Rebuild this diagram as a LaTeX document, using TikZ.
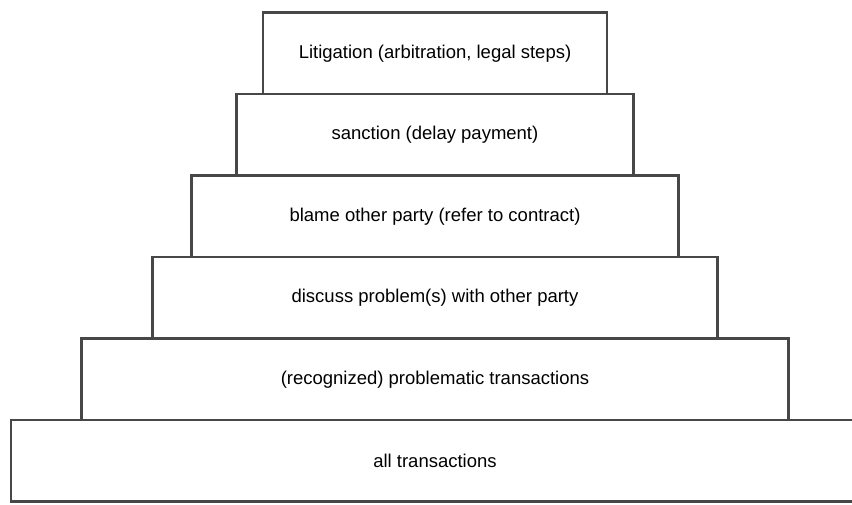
\documentclass[tikz,border=0pt]{standalone}
\usepackage{fontspec}
\setmainfont{Liberation Sans}
\usetikzlibrary{positioning}

\begin{document}
\begin{tikzpicture}[
        x=1pt, y=1pt,
        escalon/.style={draw=black!72, line width=2.2pt, fill=white, outer sep=0pt,
            minimum height=81.5pt, inner sep=0pt, align=center,
            font=\fontsize{18.5}{22}\selectfont}
    ]
        \useasboundingbox (0,0) rectangle (852,504);
        \node[escalon, minimum width=848pt] (todas) at (435,43.2) {all transactions};
        \node[escalon, minimum width=707pt, above=0pt of todas] (probl) {(recognized) problematic transactions};
        \node[escalon, minimum width=565pt, above=0pt of probl] (discu) {discuss problem(s) with other party};
        \node[escalon, minimum width=487pt, above=0pt of discu] (culpa) {blame other party (refer to contract)};
        \node[escalon, minimum width=397pt, above=0pt of culpa] (sanc) {sanction (delay payment)};
        \node[escalon, minimum width=344pt, above=0pt of sanc] (litig) {Litigation (arbitration, legal steps)};
    \end{tikzpicture}
\end{document}
